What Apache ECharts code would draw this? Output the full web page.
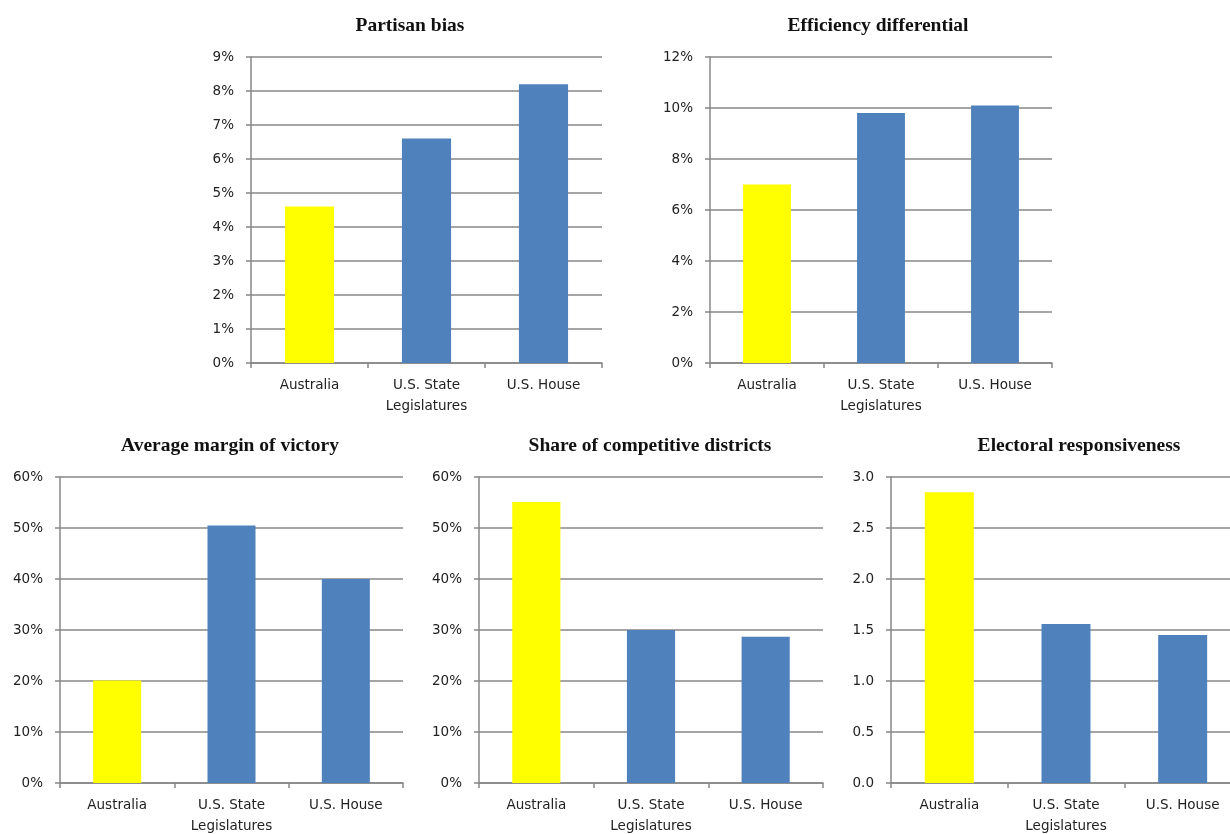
<!DOCTYPE html>
<html>
<head>
<meta charset="utf-8">
<script src="https://cdn.jsdelivr.net/npm/echarts@6/dist/echarts.min.js"></script>
<style>
html,body{margin:0;padding:0;background:#fff;}
#chart{width:1230px;height:834px;}
</style>
</head>
<body>
<div id="chart"></div>
<script>
// ---- data ----
const categories = ['Australia', 'U.S. State\nLegislatures', 'U.S. House'];
const partisanBias = [4.6, 6.6, 8.2];          // %
const efficiencyDifferential = [7.0, 9.8, 10.1]; // %
const averageMargin = [20.1, 50.5, 40.0];       // %
const competitiveShare = [55.1, 30.0, 28.7];    // %
const responsiveness = [2.85, 1.56, 1.45];
const titles = ['Partisan bias', 'Efficiency differential', 'Average margin of victory',
                'Share of competitive districts', 'Electoral responsiveness'];
const yMax = [9, 12, 60, 60, 3];
const yStep = [1, 2, 10, 10, 0.5];

// ---- layout / style ----
const grids = [
  {left: 251, top: 57, width: 351, height: 306},
  {left: 710, top: 57, width: 342, height: 306},
  {left: 60, top: 477, width: 343, height: 306},
  {left: 479, top: 477, width: 344, height: 306},
  {left: 891, top: 477, width: 350, height: 306}
].map(g => Object.assign({outerBoundsMode: 'none', containLabel: false}, g));
const titlePos = [[410, 16], [878, 16], [230, 436], [650, 436], [1079, 436]];
const seriesData = [partisanBias, efficiencyDifferential, averageMargin, competitiveShare, responsiveness];
const YELLOW = '#FFFF00', BLUE = '#4F81BD', LINE = '#878787';
const labelFont = {fontFamily: 'DejaVu Sans', fontSize: 13.5, color: '#222'};

const option = {
  animation: false,
  backgroundColor: '#fff',
  title: titles.map((t, i) => ({
    text: t, left: titlePos[i][0], top: titlePos[i][1], textAlign: 'center', padding: 0,
    textStyle: {fontFamily: 'Liberation Serif', fontWeight: 'bold', fontSize: 19.5, color: '#111'}
  })),
  grid: grids,
  xAxis: grids.map((g, i) => ({
    type: 'category', gridIndex: i, data: categories, boundaryGap: true,
    axisLine: {lineStyle: {color: LINE, width: 1.5}},
    axisTick: {show: true, length: 5, lineStyle: {color: LINE, width: 1.5}},
    axisLabel: Object.assign({margin: 12, lineHeight: 21, interval: 0}, labelFont)
  })),
  yAxis: grids.map((g, i) => ({
    type: 'value', gridIndex: i, min: 0, max: yMax[i], interval: yStep[i],
    axisLine: {show: true, lineStyle: {color: LINE, width: 1.5}},
    axisTick: {show: true, length: 5, lineStyle: {color: LINE, width: 1.5}},
    splitLine: {show: true, lineStyle: {color: LINE, width: 1.5}},
    axisLabel: Object.assign({margin: 17,
      formatter: i === 4 ? (v => v.toFixed(1)) : (v => Math.round(v) + '%')}, labelFont)
  })),
  series: seriesData.map((d, i) => ({
    type: 'bar', xAxisIndex: i, yAxisIndex: i, barWidth: '42%',
    data: d,
    itemStyle: {color: p => (p.dataIndex === 0 ? YELLOW : BLUE)}
  }))
};
echarts.init(document.getElementById('chart')).setOption(option);
</script>
</body>
</html>
